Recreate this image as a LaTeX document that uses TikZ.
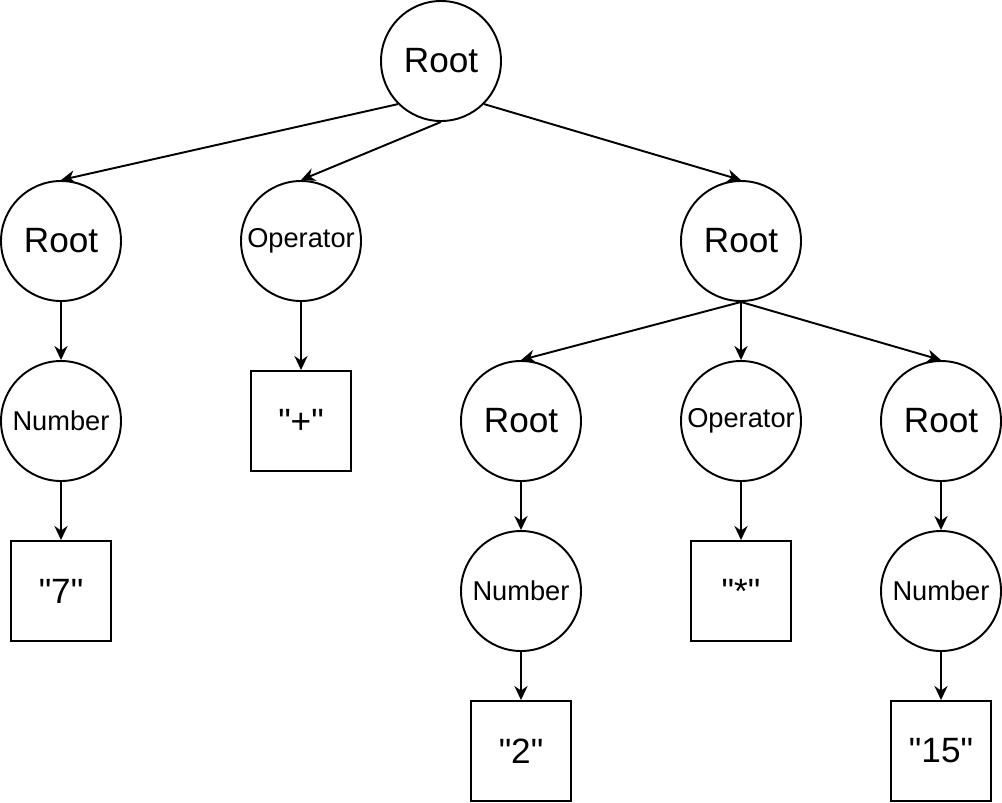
\documentclass[tikz,border=0pt]{standalone}
\usepackage{fontspec}
\newfontfamily\diagfont{Liberation Sans}
\usepackage{tikz}
\usetikzlibrary{arrows.meta}

\begin{document}
\begin{tikzpicture}[>={Stealth[length=8pt,width=7.5pt]},
  tnode/.style={circle, draw, line width=1.1pt, minimum size=2.4cm, inner sep=0pt,
    font=\diagfont\fontsize{20}{24}\selectfont},
  snode/.style={tnode, font=\diagfont\fontsize{15.5}{18}\selectfont},
  leaf/.style={rectangle, draw, line width=1.1pt, minimum size=2cm, inner sep=0pt,
    font=\diagfont\fontsize{20}{24}\selectfont},
  edge/.style={->, line width=1.1pt}]
  \useasboundingbox (0,0) rectangle (20.04,-16.04);
  % Top level
  \node[tnode] (root) at (8.82,-1.22) {Root};
  \node[tnode] (rootA) at (1.22,-4.82) {Root};
  \node[snode] (opA) at (6.02,-4.82) {Operator};
  \node[tnode] (rootB) at (14.82,-4.82) {Root};
  % Left branch
  \node[snode] (numA) at (1.22,-8.42) {Number};
  \node[leaf] (seven) at (1.22,-11.82) {"7"};
  \node[leaf] (plus) at (6.02,-8.42) {"+"};
  % Right branch
  \node[tnode] (rootC) at (10.42,-8.42) {Root};
  \node[snode] (opB) at (14.82,-8.42) {Operator};
  \node[tnode] (rootD) at (18.82,-8.42) {Root};
  \node[snode] (numC) at (10.42,-11.82) {Number};
  \node[leaf] (star) at (14.82,-11.82) {"*"};
  \node[snode] (numD) at (18.82,-11.82) {Number};
  \node[leaf] (two) at (10.42,-15.02) {"2"};
  \node[leaf] (fifteen) at (18.82,-15.02) {"15"};
  % Arrows
  \draw[edge] (root.south west) -- (rootA.north);
  \draw[edge] (root.south) -- (opA.north);
  \draw[edge] (root.south east) -- (rootB.north);
  \draw[edge] (rootA) -- (numA);
  \draw[edge] (numA) -- (seven);
  \draw[edge] (opA) -- (plus);
  \draw[edge] (rootB.south) -- (rootC.north);
  \draw[edge] (rootB) -- (opB);
  \draw[edge] (rootB.south) -- (rootD.north);
  \draw[edge] (rootC) -- (numC);
  \draw[edge] (numC) -- (two);
  \draw[edge] (opB) -- (star);
  \draw[edge] (rootD) -- (numD);
  \draw[edge] (numD) -- (fifteen);
\end{tikzpicture}
\end{document}
